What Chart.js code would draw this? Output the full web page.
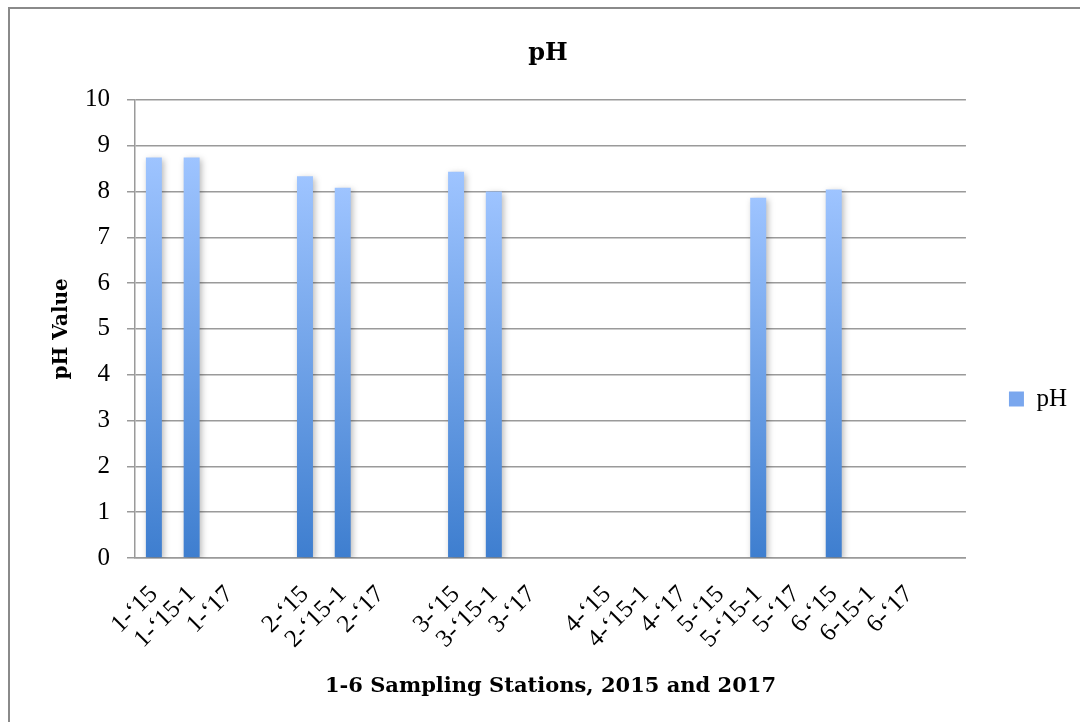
<!DOCTYPE html>
<html>
<head>
<meta charset="utf-8">
<title>pH</title>
<script src="https://cdn.jsdelivr.net/npm/chart.js@4/dist/chart.umd.min.js"></script>
<style>
  html, body { margin: 0; padding: 0; background: #fff; overflow: hidden; }
  #wrap { position: relative; width: 1080px; height: 722px; }
  #frame { position: absolute; left: 8px; top: 7px; width: 1200px; height: 900px; border: 2px solid #8a8a8a; box-sizing: border-box; pointer-events: none; }
  canvas { position: absolute; left: 0; top: 0; }
</style>
</head>
<body>
<div id="wrap">
  <div id="frame"></div>
  <canvas id="phChart" width="1080" height="722"></canvas>
</div>
<script>
// station / year labels along the x axis (blank slots are the gaps between stations)
const stations = [
  "1-\u201815", "1-\u201815-1", "1-\u201817", "",
  "2-\u201815", "2-\u201815-1", "2-\u201817", "",
  "3-\u201815", "3-\u201815-1", "3-\u201817", "",
  "4-\u201815", "4-\u201815-1", "4-\u201817",
  "5-\u201815", "5-\u201815-1", "5-\u201817",
  "6-\u201815", "6-15-1", "6-\u201817", ""
];

// pH readings, null where nothing was measured
const phValues = [
  8.74, 8.74, null, null,
  8.33, 8.08, null, null,
  8.43, 8.00, null, null,
  null, null, null,
  null, 7.86, null,
  8.04, null, null, null
];

const yTicks = { min: 0, max: 10, step: 1 };

const serif = "'Liberation Serif', 'DejaVu Serif', serif";
const boldSerif = "'DejaVu Serif', 'Liberation Serif', serif";
const gridGray = '#9a9a9a';

// vertical gradient per bar, light at the top, darker at the base
function barGradient(context) {
  const chart = context.chart;
  if (!chart.chartArea || context.type !== 'data') return '#7aa7ee';
  const v = context.raw;
  if (v == null) return '#7aa7ee';
  const yScale = chart.scales.y;
  const top = yScale.getPixelForValue(v);
  const bottom = yScale.getPixelForValue(0);
  const g = chart.ctx.createLinearGradient(0, top, 0, bottom);
  g.addColorStop(0, '#9ec4ff');
  g.addColorStop(1, '#3e7ecf');
  return g;
}

// soft drop shadow behind the bars
const barShadow = {
  id: 'barShadow',
  beforeDatasetsDraw(chart) {
    const ctx = chart.ctx;
    ctx.save();
    ctx.shadowColor = 'rgba(0,0,0,0.28)';
    ctx.shadowBlur = 6;
    ctx.shadowOffsetX = 2;
    ctx.shadowOffsetY = 2;
  },
  afterDatasetsDraw(chart) {
    chart.ctx.restore();
  }
};

const ctx = document.getElementById('phChart');

new Chart(ctx, {
  type: 'bar',
  data: {
    labels: stations,
    datasets: [{
      label: 'pH',
      data: phValues,
      backgroundColor: barGradient,
      borderWidth: 0,
      categoryPercentage: 1,
      barPercentage: 0.423
    }]
  },
  options: {
    responsive: false,
    devicePixelRatio: 1,
    animation: false,
    layout: { padding: { left: 19, right: 3, top: 0, bottom: 19 } },
    plugins: {
      title: {
        display: true,
        text: 'pH',
        color: '#000',
        font: { family: boldSerif, size: 24, weight: 'bold' },
        padding: { top: 39, bottom: 32 }
      },
      legend: {
        position: 'right',
        // empty title only pushes the single entry down to where the original sits
        title: { display: true, text: ' ', font: { size: 10 }, padding: { top: 83, bottom: 0 } },
        labels: {
          color: '#000',
          font: { family: serif, size: 25 },
          boxWidth: 15,
          boxHeight: 15,
          padding: 43,
          generateLabels(chart) {
            return [{
              text: 'pH',
              fillStyle: '#7aa7ee',
              strokeStyle: '#7aa7ee',
              fontColor: '#000',
              lineWidth: 0,
              datasetIndex: 0,
              hidden: false
            }];
          }
        }
      },
      tooltip: { enabled: false }
    },
    scales: {
      x: {
        grid: { display: false, drawTicks: false },
        border: { display: true, color: gridGray, width: 1.5 },
        ticks: {
          autoSkip: false,
          minRotation: 45,
          maxRotation: 45,
          padding: 22,
          color: '#000',
          font: { family: serif, size: 25 }
        },
        title: {
          display: true,
          text: '1-6 Sampling Stations, 2015 and 2017',
          color: '#000',
          font: { family: boldSerif, size: 21, weight: 'bold' },
          padding: { top: 4, bottom: 4 }
        },
        afterFit(scale) { scale.height = 145; }
      },
      y: {
        min: yTicks.min,
        max: yTicks.max,
        grid: { color: gridGray, lineWidth: 1.5, tickLength: 8, drawTicks: true },
        border: { display: true, color: gridGray, width: 1.5 },
        ticks: {
          stepSize: yTicks.step,
          padding: 17,
          color: '#000',
          font: { family: serif, size: 25 }
        },
        title: {
          display: true,
          text: 'pH Value',
          color: '#000',
          font: { family: boldSerif, size: 20, weight: 'bold' },
          padding: { top: 31, bottom: 4 }
        },
        afterFit(scale) { scale.width = 116; }
      }
    }
  },
  plugins: [barShadow]
});
</script>
</body>
</html>
